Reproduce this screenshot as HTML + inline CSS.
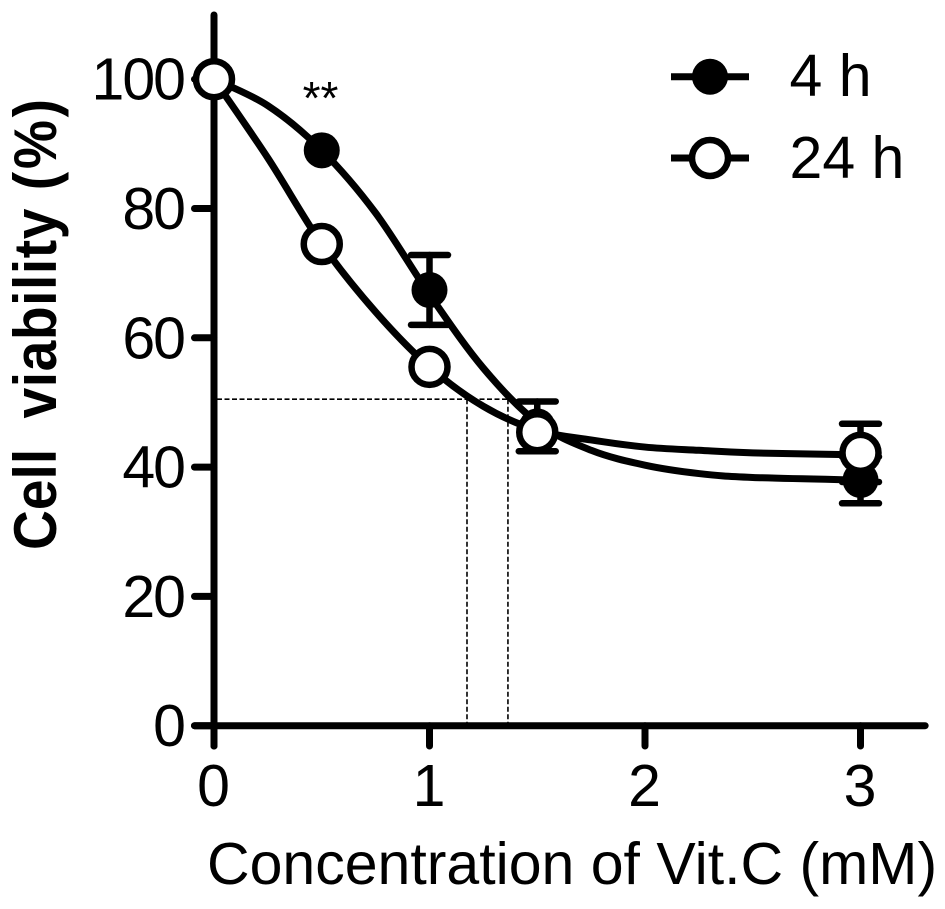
<!DOCTYPE html>
<html lang="en">
<head>
<meta charset="utf-8">
<title>Cell viability vs Vit.C concentration</title>
<style>
html,body{margin:0;padding:0;background:#fff;width:945px;height:909px;overflow:hidden}
svg{display:block}
text{font-family:"Liberation Sans",Arial,sans-serif;fill:#000}
</style>
</head>
<body>
<svg id="chart" xmlns="http://www.w3.org/2000/svg" width="945" height="909" viewBox="0 0 945 909">
  <g id="guides"></g>
  <g id="curves"></g>
  <g id="axes"></g>
  <g id="marks"></g>
  <text transform="translate(56,550) rotate(-90) scale(0.92,1)" font-size="60" font-weight="700">Cell <tspan x="143" letter-spacing="0.6">viability </tspan><tspan x="391" letter-spacing="3">(%)</tspan></text>
  <text x="207" y="884" font-size="59">Concentration of Vit.C (mM)</text>
  <text id="sig" x="320.5" y="114" font-size="46" text-anchor="middle">**</text>
  <g>
    <g>
      <line x1="671" x2="749" y1="76.7" y2="76.7" stroke="#000" stroke-width="7"/>
      <circle cx="710" cy="76.7" r="18" fill="#000"/>
      <text x="789.5" y="96" font-size="59">4 h</text>
    </g>
    <g>
      <line x1="671" x2="749" y1="158" y2="158" stroke="#000" stroke-width="7"/>
      <circle cx="710" cy="158" r="18" fill="#fff" stroke="#000" stroke-width="6.5"/>
      <text x="789.5" y="178" font-size="59">24 h</text>
    </g>
  </g>
</svg>
<script>
const xTickValues = [0, 1, 2, 3];
const yTickValues = [0, 20, 40, 60, 80, 100];
const doses = [0, 0.5, 1, 1.5, 3];
const values4h = [100, 89, 67.4, 46.3, 38];
const errors4h = [0, 0, 5.4, 3.85, 3.6];
const values24h = [100, 74.5, 55.5, 45.4, 42.2];
const errors24h = [0, 0, 0, 0, 4.5];
const curveX = [0, 0.25, 0.5, 0.75, 1, 1.25, 1.5, 1.75, 2, 2.25, 2.5, 3];
const curve4hY = [100, 95.9, 89, 79.3, 66.7, 55.3, 46.9, 42.6, 40.3, 39, 38.4, 38];
const curve24hY = [100, 87.8, 74.5, 64, 55.5, 49.4, 45.7, 44.2, 43.1, 42.6, 42.2, 41.9];
const guideLevel = 50.5;
const guideDoses = [1.174, 1.364];
const xAxisMax = 3.3;
const yAxisMax = 110.4;

const NS = 'http://www.w3.org/2000/svg';
const sx = v => 214 + 215.5 * v;
const sy = v => 725.7 - 6.465 * v;

function make(parent, tag, props) {
  const el = document.createElementNS(NS, tag);
  for (const k in props) el.setAttribute(k, props[k]);
  parent.appendChild(el);
  return el;
}

function smoothPath(xs, ys) {
  const p = xs.map((x, i) => [sx(x), sy(ys[i])]);
  let d = 'M' + p[0][0] + ' ' + p[0][1];
  for (let i = 0; i < p.length - 1; i++) {
    const a = p[Math.max(i - 1, 0)], b = p[i], c = p[i + 1], e = p[Math.min(i + 2, p.length - 1)];
    d += ' C' + (b[0] + (c[0] - a[0]) / 6) + ' ' + (b[1] + (c[1] - a[1]) / 6) + ' ' +
      (c[0] - (e[0] - b[0]) / 6) + ' ' + (c[1] - (e[1] - b[1]) / 6) + ' ' + c[0] + ' ' + c[1];
  }
  return d;
}

const guides = document.getElementById('guides');
const dash = { stroke: '#000', 'stroke-width': 1.6, 'stroke-dasharray': '5 2.5', fill: 'none' };
const hGuide = make(guides, 'line', Object.assign({ x1: sx(0) + 3, x2: sx(guideDoses[1]), y1: sy(guideLevel), y2: sy(guideLevel) }, dash));


guideDoses.forEach(d => {
  const v = make(guides, 'line', Object.assign({ x1: sx(d), x2: sx(d), y1: sy(guideLevel), y2: sy(0) }, dash));
  
  
});

const curves = document.getElementById('curves');
const curve4 = make(curves, 'path', { d: smoothPath(curveX, curve4hY), fill: 'none', stroke: '#000', 'stroke-width': 7 });


const curve24 = make(curves, 'path', { d: smoothPath(curveX, curve24hY), fill: 'none', stroke: '#000', 'stroke-width': 7 });



const axes = document.getElementById('axes');
const axisStyle = { stroke: '#000', 'stroke-width': 7, 'stroke-linecap': 'round' };
const yAxis = make(axes, 'line', Object.assign({ x1: sx(0), x2: sx(0), y1: sy(yAxisMax) + 3, y2: 746 }, axisStyle));


const xAxis = make(axes, 'line', Object.assign({ x1: 194.5, x2: sx(xAxisMax), y1: sy(0), y2: sy(0) }, axisStyle));



yTickValues.forEach(v => {
  const t = make(axes, 'line', Object.assign({ x1: 194.5, x2: sx(0), y1: sy(v), y2: sy(v) }, axisStyle));
  
  
  const l = make(axes, 'text', { x: 184, y: sy(v) + 20.5, 'font-size': 59, 'text-anchor': 'end', 'letter-spacing': -2 });
  
  
  l.textContent = v;
});
xTickValues.forEach(v => {
  const t = make(axes, 'line', Object.assign({ x1: sx(v), x2: sx(v), y1: sy(0), y2: 746 }, axisStyle));
  
  
  const l = make(axes, 'text', { x: sx(v) - 0.5, y: 806, 'font-size': 59, 'text-anchor': 'middle' });
  
  
  l.textContent = v;
});

const marks = document.getElementById('marks');
function drawErrors(vals, errs) {
  doses.forEach((d, i) => {
    if (!errs[i]) return;
    const st = { stroke: '#000', 'stroke-width': 6.5, 'stroke-linecap': 'round' };
    const stem = make(marks, 'line', Object.assign({ x1: sx(d), x2: sx(d), y1: sy(vals[i] + errs[i]), y2: sy(vals[i] - errs[i]) }, st));
    
    
    [vals[i] + errs[i], vals[i] - errs[i]].forEach(e => {
      const cap = make(marks, 'line', Object.assign({ x1: sx(d) - 18.5, x2: sx(d) + 18.5, y1: sy(e), y2: sy(e) }, st));
      
      
    });
  });
}
drawErrors(values4h, errors4h);
drawErrors(values24h, errors24h);
doses.forEach((d, i) => {
  const c = make(marks, 'circle', { cx: sx(d), cy: sy(values4h[i]), r: 18, fill: '#000' });
  
  
});
doses.forEach((d, i) => {
  const c = make(marks, 'circle', { cx: sx(d), cy: sy(values24h[i]), r: 18, fill: '#fff', stroke: '#000', 'stroke-width': 6.5 });
  
  
});
</script>
</body>
</html>
